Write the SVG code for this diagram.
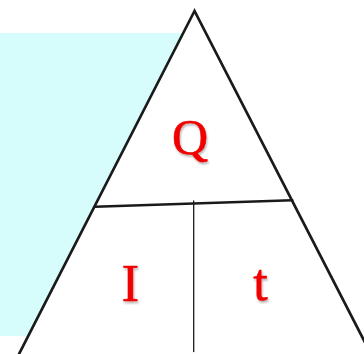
<svg xmlns="http://www.w3.org/2000/svg" width="364" height="354" viewBox="0 0 364 354">
<style>
.lbl{font-family:"Liberation Serif","Times New Roman",serif;fill:#f00000;text-anchor:middle;stroke:#f00000;stroke-width:0.6}
.edge{fill:none;stroke:#1a1a1a;stroke-linecap:round}
</style>
<defs>
<filter id="sh" x="-20%" y="-20%" width="150%" height="150%">
<feGaussianBlur in="SourceAlpha" stdDeviation="1"/>
<feOffset dx="1" dy="1.5" result="b"/>
<feComponentTransfer><feFuncA type="linear" slope="0.3"/></feComponentTransfer>
<feMerge><feMergeNode/><feMergeNode in="SourceGraphic"/></feMerge>
</filter>
</defs>
<rect x="0" y="0" width="364" height="354" fill="#ffffff"/>
<rect id="panel" x="0" y="33" width="190" height="303" fill="#d6fcfc"/>
<g id="triangle">
<polygon points="194.5,11 18,356 372,356" fill="#ffffff" stroke="#1a1a1a" stroke-width="2.7" stroke-linejoin="miter"/>
</g>
<g id="connectors">
<line class="edge" x1="95" y1="206.7" x2="292.3" y2="200.3" stroke-width="2.5"/>
<line class="edge" x1="193.7" y1="201" x2="193.7" y2="351.5" stroke-width="1.3"/>
</g>
<g id="node-Q" filter="url(#sh)"><text class="lbl" x="190" y="154" font-size="50">Q</text></g>
<g id="node-I" filter="url(#sh)"><text class="lbl" x="130.5" y="301" font-size="52">I</text></g>
<g id="node-t" filter="url(#sh)"><text class="lbl" x="260.5" y="300" font-size="52">t</text></g>
</svg>
